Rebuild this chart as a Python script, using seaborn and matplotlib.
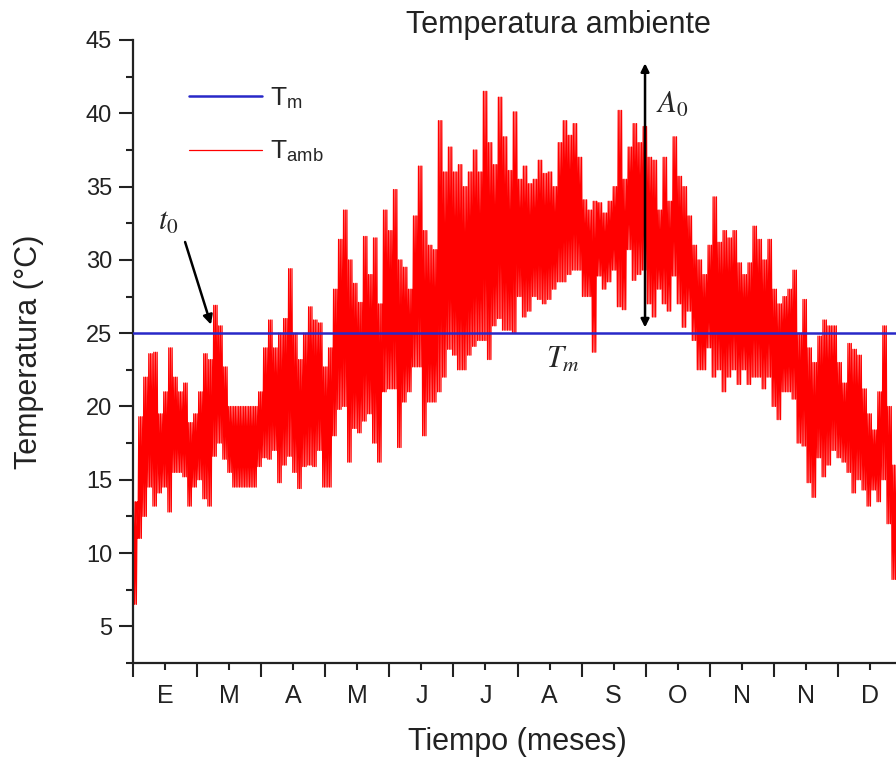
import numpy as np
import pandas as pd
import matplotlib
matplotlib.use("Agg")
import matplotlib.pyplot as plt
import seaborn as sns

# ---- data (envelope of the hourly series, ~2.4 days per step) ----
t_hi = [13.5, 19.3, 22.0, 23.6, 23.7, 19.5, 21.0, 24.0, 22.0, 21.0,
        21.6, 18.9, 19.5, 21.0, 23.6, 23.2, 26.9, 25.5, 22.7, 20.0,
        20.0, 20.0, 20.0, 20.0, 20.0, 21.0, 24.0, 25.9, 24.0, 25.0,
        26.0, 29.4, 25.0, 23.2, 25.0, 26.8, 25.9, 25.7, 22.7, 24.0,
        28.0, 31.4, 33.4, 30.0, 28.4, 27.1, 31.6, 29.0, 31.5, 27.0,
        33.4, 32.0, 34.8, 30.0, 29.5, 28.0, 33.0, 36.4, 32.0, 31.0,
        30.7, 39.5, 36.0, 37.7, 36.0, 36.5, 35.0, 36.0, 37.5, 36.0,
        41.5, 38.0, 36.5, 41.1, 38.4, 36.1, 40.1, 35.5, 36.4, 35.2,
        35.5, 36.8, 35.9, 36.0, 35.0, 38.0, 39.5, 38.5, 39.3, 37.0,
        34.1, 33.4, 34.0, 33.9, 33.2, 34.0, 35.0, 40.2, 35.5, 37.7,
        39.3, 38.0, 39.1, 37.0, 36.8, 33.4, 37.0, 34.0, 38.4, 35.7,
        35.0, 33.0, 31.0, 30.0, 29.0, 31.0, 34.3, 31.2, 32.0, 31.5,
        32.0, 29.8, 29.0, 29.8, 32.3, 31.4, 30.0, 31.4, 28.0, 27.0,
        27.5, 28.0, 29.3, 25.0, 27.3, 24.0, 23.0, 24.8, 25.9, 25.5,
        25.5, 23.0, 21.6, 24.3, 23.9, 23.5, 21.2, 19.5, 18.4, 21.0,
        25.5, 20.0, 16.0]
t_lo = [6.5, 11.0, 12.5, 14.5, 13.2, 14.1, 14.5, 12.8, 15.5, 15.5,
        15.2, 13.2, 14.5, 15.0, 13.7, 13.2, 16.6, 17.5, 16.4, 15.5,
        14.5, 14.5, 14.5, 14.5, 14.5, 15.9, 16.5, 16.4, 17.0, 14.8,
        16.0, 16.6, 15.5, 14.4, 15.9, 16.0, 15.9, 17.0, 14.5, 14.5,
        18.0, 19.8, 20.0, 16.2, 18.5, 18.2, 19.0, 19.5, 17.5, 16.2,
        21.0, 21.2, 21.2, 17.2, 20.3, 21.0, 22.7, 22.7, 18.0, 20.3,
        20.3, 21.0, 22.0, 23.9, 23.5, 22.5, 22.5, 23.5, 24.1, 24.5,
        24.5, 23.2, 25.5, 26.0, 25.2, 25.2, 25.0, 27.5, 26.1, 26.5,
        27.5, 27.3, 27.0, 27.3, 28.0, 28.5, 28.5, 29.0, 29.3, 29.3,
        27.5, 27.5, 23.7, 28.9, 28.0, 28.5, 29.3, 26.8, 26.6, 30.7,
        28.6, 29.0, 29.3, 27.0, 26.1, 28.0, 27.0, 26.5, 28.9, 27.0,
        25.4, 26.5, 24.5, 22.5, 22.5, 24.0, 22.0, 22.5, 21.0, 22.0,
        22.5, 21.5, 22.5, 21.5, 22.0, 22.0, 21.2, 22.0, 20.0, 19.1,
        21.0, 21.0, 20.5, 17.5, 17.3, 14.8, 13.8, 16.5, 15.2, 16.0,
        17.0, 16.5, 16.2, 15.5, 14.1, 15.0, 14.3, 13.2, 14.3, 13.5,
        15.0, 12.0, 8.2]
T_m = 25.0
month_labels = ["E", "M", "A", "M", "J", "J", "A", "S", "O", "N", "N", "D"]
cycles_per_step = 3  # daily cycles within each read step

# ---- build the series (daily lows and highs of each step) ----
vals = []
for lo, hi in zip(t_lo, t_hi):
    vals.extend([lo, hi] * cycles_per_step)
n = len(vals)
t = np.linspace(0, 11.91, n)
df = pd.DataFrame({"t": t, "T": vals})

sns.set_theme(style="ticks")
plt.rcParams["font.family"] = ["Liberation Sans", "DejaVu Sans"]
plt.rcParams["mathtext.fontset"] = "stix"

W, H = 896, 761
fig = plt.figure(figsize=(W / 100, H / 100), dpi=100)
ax = fig.add_axes([133 / W, 1 - 663 / H, 769 / W, (663 - 40) / H])

ax.axhline(T_m, color="#2828c8", lw=1.8, zorder=3, label=r"T$_\mathregular{m}$")
sns.lineplot(data=df, x="t", y="T", color="red", lw=0.9, sort=False,
             estimator=None, ax=ax, label=r"T$_\mathregular{amb}$", zorder=2)

ax.set_xlim(0, 12)
ax.set_ylim(2.5, 45)
ax.set_xticks(np.arange(0, 13, 1))
ax.set_xticklabels([])
ax.set_xticks(np.arange(0.5, 12, 1), minor=True)
ax.set_xticklabels(month_labels, minor=True)
ax.set_yticks(np.arange(5, 46, 5))
ax.set_yticks(np.arange(2.5, 45, 5), minor=True)

for s in ["top", "right"]:
    ax.spines[s].set_visible(False)
for s in ["left", "bottom"]:
    ax.spines[s].set_linewidth(1.6)
    ax.spines[s].set_color("#222222")

ax.tick_params(axis="both", which="major", length=10, width=1.5, color="#222222",
               labelsize=17, labelcolor="#222222", direction="out", pad=5)
ax.tick_params(axis="both", which="minor", length=5, width=1.5, color="#222222",
               labelsize=18, labelcolor="#222222", direction="out")
ax.tick_params(axis="x", which="minor", pad=10)

ax.set_xlabel("Tiempo (meses)", fontsize=22, color="#222222", labelpad=14)
ax.set_ylabel("Temperatura (°C)", fontsize=22, color="#222222", labelpad=30)
fig.text(558 / W, 1 - 25 / H, "Temperatura ambiente", fontsize=22, color="#222222",
         ha="center", va="center")

ax.legend(loc="upper left", bbox_to_anchor=(0.042, 0.965), frameon=False,
          fontsize=19, handlelength=2.75, labelspacing=1.05, handletextpad=0.3)

# annotations
ax.annotate("", xy=(1.23, 25.4), xytext=(0.8, 31.4),
            arrowprops=dict(arrowstyle="-|>", color="black", lw=1.8, mutation_scale=14))
ax.text(0.55, 32.6, r"$t_0$", fontsize=22, ha="center", va="center")
ax.annotate("", xy=(7.99, 25.2), xytext=(7.99, 43.6),
            arrowprops=dict(arrowstyle="<|-|>", color="black", lw=1.8, mutation_scale=12))
ax.text(8.41, 40.6, r"$A_0$", fontsize=22, ha="center", va="center")
ax.text(6.71, 23.2, r"$T_m$", fontsize=22, ha="center", va="center")

fig.savefig("out.png", dpi=100)
